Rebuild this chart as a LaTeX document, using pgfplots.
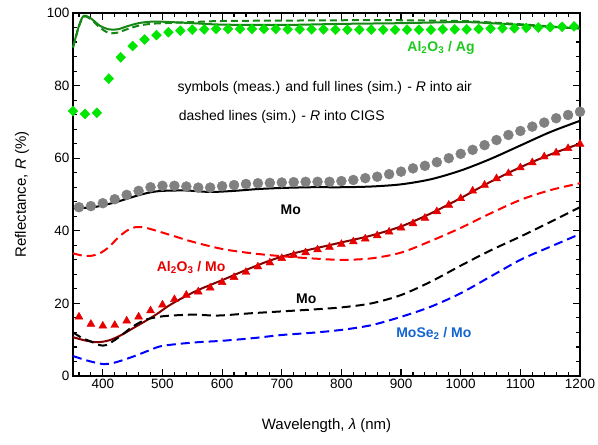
\documentclass[border=0pt]{standalone}
\usepackage{fontspec}
\setmainfont{Liberation Sans}
\usepackage{pgfplots}
\pgfplotsset{compat=1.18}
\usetikzlibrary{calc}

\definecolor{agline}{RGB}{20,135,20}
\definecolor{agmark}{RGB}{0,230,0}
\definecolor{agtext}{RGB}{30,200,30}
\definecolor{momark}{RGB}{128,128,128}
\definecolor{almark}{RGB}{230,0,0}
\definecolor{alline}{RGB}{130,0,0}
\definecolor{aldash}{RGB}{255,0,0}
\definecolor{sedash}{RGB}{0,0,255}
\definecolor{setext}{RGB}{20,100,210}

\begin{document}
\begin{tikzpicture}
\begin{axis}[
  scale only axis,
  width=507pt, height=363pt,
  xmin=350, xmax=1200, ymin=0, ymax=100,
  xtick={400,500,...,1200},
  minor xtick={360,380,...,1180},
  ytick={0,20,...,100},
  minor ytick={4,8,...,96},
  xtick pos=both, ytick pos=both,
  tick align=inside,
  major tick length=7pt,
  minor tick length=4pt,
  axis line style={line width=1.3pt},
  major tick style={black, line width=1.2pt},
  minor tick style={black, line width=1.1pt},
  /pgf/number format/assume math mode=true,
  /pgf/number format/1000 sep={},
  tick label style={font=\fontsize{13.5}{16}\selectfont},
  label style={font=\fontsize{15}{18}\selectfont},
  xlabel={Wavelength, \textit{λ} (nm)},
  ylabel={Reflectance, \textit{R} (\%)},
  xlabel style={at={(axis description cs:0.5,-0.138)}, anchor=center},
  ylabel style={at={(axis description cs:-0.1006,0.5)}, anchor=center},
  clip=false,
]

% measured: Al2O3 / Ag
\addplot[only marks, mark=diamond*, mark size=5pt, color=agmark,
  mark options={xscale=1.3}] coordinates {
  (350,73.0) (370,72.2) (390,72.5) (410,81.9) (430,87.8) (450,90.9)
  (470,92.7) (490,93.9) (510,94.7) (530,95.1) (550,95.4) (570,95.5)
  (590,95.6) (610,95.6) (630,95.6) (650,95.6) (670,95.6) (690,95.6)
  (710,95.5) (730,95.5) (750,95.5) (770,95.5) (790,95.4) (810,95.4)
  (830,95.4) (850,95.4) (870,95.4) (890,95.4) (910,95.4) (930,95.4)
  (950,95.4) (970,95.5) (990,95.5) (1010,95.5) (1030,95.6) (1050,95.7)
  (1070,95.8) (1090,95.8) (1110,95.9) (1130,96.0) (1150,96.1) (1170,96.2)
  (1190,96.3)
};

% measured: Mo
\addplot[only marks, mark=*, mark size=5pt, color=momark] coordinates {
  (360,46.5) (380,46.8) (400,47.6) (420,48.7) (440,49.9) (460,51.0)
  (480,52.0) (500,52.4) (520,52.4) (540,52.2) (560,51.9) (580,51.9)
  (600,52.3) (620,52.6) (640,52.9) (660,53.1) (680,53.2) (700,53.3)
  (720,53.4) (740,53.5) (760,53.5) (780,53.5) (800,53.7) (820,54.0)
  (840,54.5) (860,54.9) (880,55.6) (900,56.3) (920,57.2) (940,57.9)
  (960,58.9) (980,60.0) (1000,61.2) (1020,62.3) (1040,63.6) (1060,65.0)
  (1080,66.4) (1100,67.5) (1120,68.7) (1140,69.8) (1160,71.0) (1180,71.9)
  (1200,72.8)
};

% measured: Al2O3 / Mo
\addplot[only marks, mark=triangle*, mark size=4.6pt, color=almark] coordinates {
  (360,16.3) (380,14.3) (400,13.8) (420,14.0) (440,15.2) (460,16.3)
  (480,18.0) (500,19.6) (520,21.1) (540,22.3) (560,23.2) (580,24.3)
  (600,25.8) (620,27.2) (640,28.6) (660,30.1) (680,31.2) (700,32.4)
  (720,33.3) (740,34.0) (760,34.8) (780,35.5) (800,36.3) (820,37.0)
  (840,37.8) (860,38.7) (880,39.7) (900,40.8) (920,42.0) (940,43.5)
  (960,45.3) (980,47.1) (1000,48.9) (1020,51.0) (1040,52.6) (1060,54.4)
  (1080,55.8) (1100,57.4) (1120,58.8) (1140,60.4) (1160,61.5) (1180,62.7)
  (1200,63.9)
};

% simulated into air, Al2O3 / Ag
\addplot[agline, line width=2pt, smooth] coordinates {
  (350,90.5) (360,96.5) (368,99.2) (380,98.5) (395,96.5) (410,95.5)
  (425,95.5) (440,96.3) (460,97.2) (480,97.6) (500,97.6) (550,97.2)
  (600,96.8) (700,96.7) (800,97.0) (900,97.2) (1000,97.5) (1050,97.2)
  (1100,96.7) (1150,96.2) (1200,95.7)
};
% simulated into CIGS, Al2O3 / Ag
\addplot[agline, line width=2pt, smooth, dash pattern=on 7pt off 4pt] coordinates {
  (350,90.5) (360,96.3) (368,99.0) (380,98.3) (395,96.0) (410,94.5)
  (425,94.6) (440,95.5) (460,96.5) (480,97.0) (500,97.2) (550,97.5)
  (600,97.8) (700,97.9) (800,98.0) (900,98.0) (1000,97.8) (1050,97.4)
  (1100,96.9) (1150,96.3) (1200,95.8)
};

% simulated into air, Mo
\addplot[black, line width=2pt, smooth] coordinates {
  (350,46.2) (380,46.4) (400,47.0) (420,47.8) (440,48.8) (460,49.8)
  (480,50.6) (500,51.0) (540,51.1) (580,50.7) (620,51.0) (660,51.5)
  (700,51.8) (750,52.0) (800,52.0) (850,52.2) (900,52.8) (950,54.2)
  (1000,56.6) (1050,59.8) (1100,63.5) (1150,67.2) (1200,70.3)
};

% simulated into air, Al2O3 / Mo
\addplot[alline, line width=2pt, smooth] coordinates {
  (350,10.7) (370,9.8) (390,9.3) (410,9.8) (430,11.2) (450,13.1)
  (470,15.0) (490,17.0) (510,19.3) (530,21.2) (560,23.7) (600,26.4)
  (640,29.2) (680,31.8) (720,33.8) (760,35.3) (800,36.8) (850,38.7)
  (900,41.2) (950,44.8) (1000,49.0) (1050,53.5) (1100,57.5) (1150,61.0)
  (1200,64.0)
};

% simulated into CIGS, Al2O3 / Mo
\addplot[aldash, line width=2pt, smooth, dash pattern=on 9pt off 5pt] coordinates {
  (350,33.8) (365,33.2) (380,33.1) (395,33.8) (410,35.5) (425,38.0)
  (440,40.0) (455,41.0) (470,40.9) (490,40.0) (520,38.5) (550,37.0)
  (600,35.0) (650,33.8) (700,33.0) (750,32.4) (800,32.0) (850,32.4)
  (900,34.0) (950,37.2) (1000,40.8) (1050,44.8) (1100,48.5) (1150,51.2)
  (1200,53.1)
};

% simulated into CIGS, Mo
\addplot[black, line width=2pt, smooth, dash pattern=on 9pt off 5pt] coordinates {
  (350,12.0) (365,10.5) (380,9.5) (395,8.5) (405,8.5) (420,9.9)
  (435,11.7) (450,13.6) (470,15.4) (490,16.2) (510,16.6) (550,16.9)
  (580,16.7) (600,16.7) (650,17.3) (700,17.8) (750,18.3) (800,18.9)
  (850,20.0) (900,22.3) (950,26.0) (1000,30.4) (1050,34.6) (1100,38.4)
  (1150,42.4) (1200,46.5)
};

% simulated into CIGS, MoSe2 / Mo
\addplot[sedash, line width=2pt, smooth, dash pattern=on 9pt off 5pt] coordinates {
  (350,5.5) (375,4.2) (400,3.3) (420,3.7) (450,5.3) (480,7.2)
  (500,8.3) (550,9.2) (600,9.7) (650,10.4) (700,11.3) (750,11.9)
  (800,12.7) (850,14.0) (900,16.3) (950,19.1) (1000,22.8) (1050,27.4)
  (1100,32.0) (1150,35.6) (1200,39.1)
};

\node[text=agtext, font=\fontsize{14}{16}\selectfont\bfseries] at (axis cs:967,90.3)
  {Al\textsubscript{2}O\textsubscript{3} / Ag};
\node[font=\fontsize{14}{16}\selectfont] at (axis cs:772,79.4)
  {symbols (meas.) and full lines (sim.) - \textit{R} into air};
\node[font=\fontsize{14}{16}\selectfont] at (axis cs:700,71.3)
  {dashed lines (sim.) - \textit{R} into CIGS};
\node[font=\fontsize{14}{16}\selectfont\bfseries] at (axis cs:715,45.7) {Mo};
\node[text=almark, font=\fontsize{14}{16}\selectfont\bfseries] at (axis cs:548,29.8)
  {Al\textsubscript{2}O\textsubscript{3} / Mo};
\node[font=\fontsize{14}{16}\selectfont\bfseries] at (axis cs:741,21.2) {Mo};
\node[text=setext, font=\fontsize{14}{16}\selectfont\bfseries] at (axis cs:955,11.8)
  {MoSe\textsubscript{2} / Mo};

\end{axis}
\pgfresetboundingbox
\path ($(current axis.south west)+(-73pt,-68pt)$) rectangle ($(current axis.north east)+(18pt,13pt)$);
\end{tikzpicture}
\end{document}
